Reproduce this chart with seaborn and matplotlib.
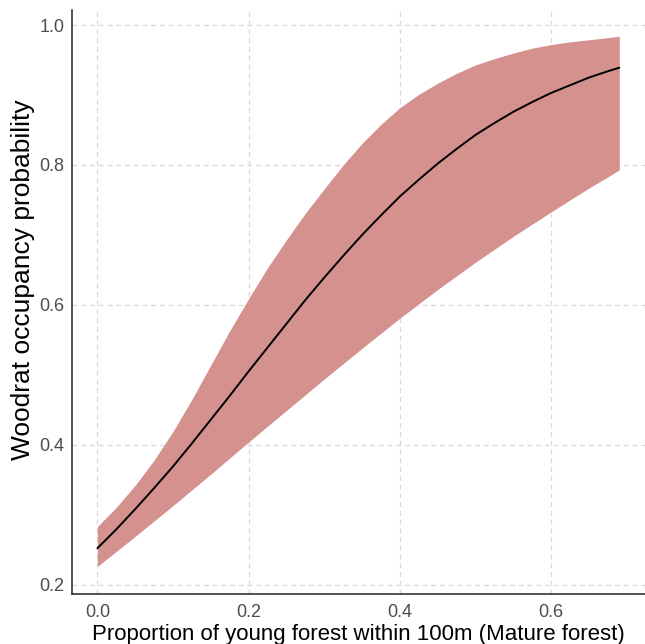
"""
woodrat occupancy vs proportion of young forest (mature forest model)
"""

import numpy as np
import pandas as pd
import matplotlib
matplotlib.use("Agg")
import matplotlib.pyplot as plt
import seaborn as sns

# values
young_forest = [0.0, 0.025, 0.05, 0.075, 0.10, 0.125, 0.15, 0.175, 0.20,
                0.225, 0.25, 0.275, 0.30, 0.325, 0.35, 0.375, 0.40, 0.425,
                0.45, 0.475, 0.50, 0.525, 0.55, 0.575, 0.60, 0.625, 0.65,
                0.675, 0.69]
occupancy = [0.252, 0.279, 0.308, 0.338, 0.369, 0.402, 0.436, 0.470, 0.505,
             0.539, 0.573, 0.607, 0.639, 0.670, 0.700, 0.728, 0.755, 0.779,
             0.802, 0.823, 0.843, 0.860, 0.876, 0.890, 0.903, 0.914, 0.925,
             0.934, 0.939]
lower_ci = [0.226, 0.2475, 0.269, 0.291, 0.313, 0.3355, 0.358, 0.381, 0.404,
            0.4265, 0.449, 0.4715, 0.494, 0.516, 0.538, 0.5595, 0.581, 0.6015,
            0.622, 0.6415, 0.661, 0.6795, 0.698, 0.7155, 0.733, 0.750, 0.767,
            0.783, 0.793]
upper_ci = [0.283, 0.3105, 0.342, 0.378, 0.419, 0.465, 0.514, 0.563, 0.609,
            0.653, 0.693, 0.731, 0.766, 0.800, 0.831, 0.858, 0.882, 0.901,
            0.917, 0.931, 0.943, 0.952, 0.960, 0.967, 0.972, 0.976, 0.979,
            0.982, 0.984]

x_ticks = [0.0, 0.2, 0.4, 0.6]
y_ticks = [0.2, 0.4, 0.6, 0.8, 1.0]

df = pd.DataFrame({
    "young": young_forest,
    "psi": occupancy,
    "lo": lower_ci,
    "hi": upper_ci,
})

sns.set_theme(style="white")
plt.rcParams["font.family"] = ["Liberation Sans", "DejaVu Sans"]

fig = plt.figure(figsize=(6.45, 6.44), dpi=100)
ax = fig.add_axes([0.111, 0.077, 0.889, 0.908])

# confidence ribbon
ax.fill_between(df["young"], df["lo"], df["hi"], color="#d4918e",
                linewidth=0, zorder=2)
# fitted line
sns.lineplot(data=df, x="young", y="psi", color="black", linewidth=1.4,
             ax=ax, zorder=3)

ax.set_xlim(-0.0341, 0.724)
ax.set_ylim(0.186, 1.022)
ax.set_xticks(x_ticks)
ax.set_yticks(y_ticks)
ax.set_xticklabels([f"{t:.1f}" for t in x_ticks])
ax.set_yticklabels([f"{t:.1f}" for t in y_ticks])

ax.grid(True, linestyle=(0, (4, 3)), color="#d9d9d9", linewidth=0.9, zorder=0)
ax.set_axisbelow(True)

for side in ["top", "right"]:
    ax.spines[side].set_visible(False)
for side in ["left", "bottom"]:
    ax.spines[side].set_color("#222222")
    ax.spines[side].set_linewidth(1.1)

ax.tick_params(axis="both", length=0, labelsize=13, labelcolor="#4d4d4d")
ax.tick_params(axis="x", pad=7)
ax.tick_params(axis="y", pad=5)

ax.set_xlabel("Proportion of young forest within 100m (Mature forest)",
              fontsize=16, color="black", labelpad=2)
ax.set_ylabel("Woodrat occupancy probability", fontsize=19, color="black")
ax.yaxis.set_label_coords(-0.064, 0.538)

fig.savefig("out.png", dpi=100, facecolor="white")
